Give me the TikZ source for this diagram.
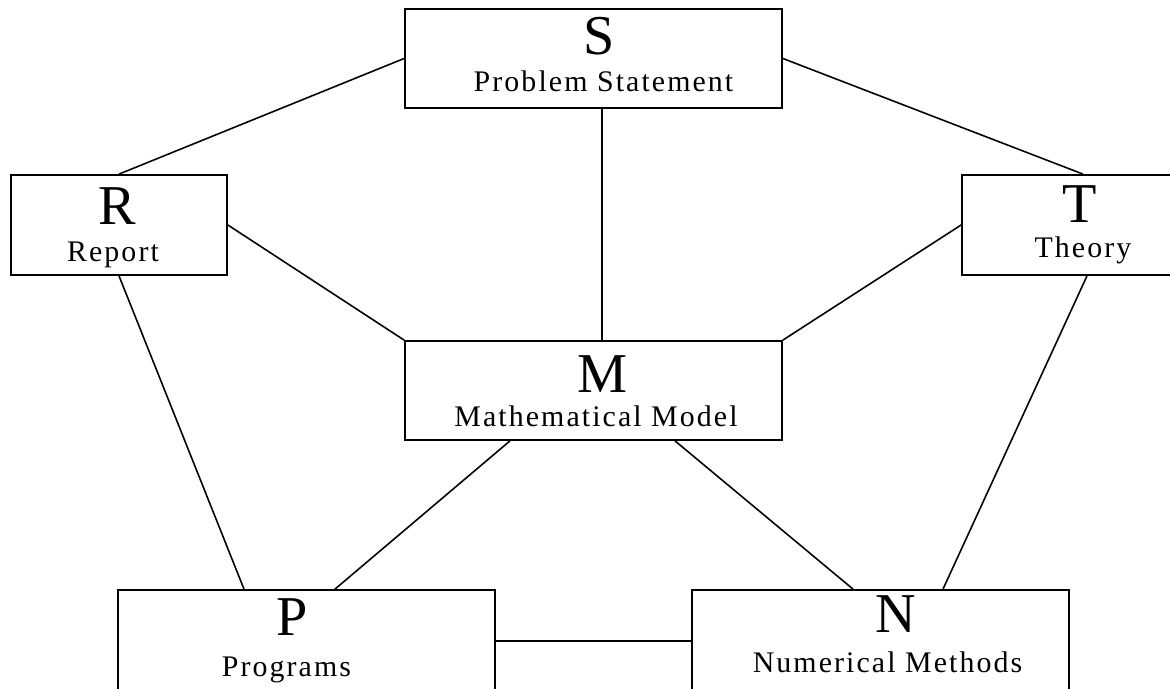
\documentclass[tikz,border=0pt]{standalone}
\usepackage{fontspec}
\setmainfont{Liberation Serif}
\newfontfamily\spacedfont[LetterSpace=7]{Liberation Serif}

\begin{document}
\begin{tikzpicture}[
    stage/.style={draw, line width=1pt, rectangle, minimum width=7.54cm, minimum height=1.98cm, inner sep=0pt},
    tag/.style={anchor=base, inner sep=0pt, font=\fontsize{32}{36}\selectfont},
    title/.style={anchor=base, inner sep=0pt, font=\spacedfont\fontsize{17}{19}\selectfont},
    link/.style={line width=0.9pt}]
  \useasboundingbox (0,0) rectangle (23.4,13.78);
  \clip (0,0) rectangle (23.4,13.78);
  % boxes
  \node[stage] (S) at (11.87,12.61) {};
  \node[stage, minimum width=4.32cm, minimum height=2cm] (R) at (2.38,9.28) {};
  \node[stage, minimum width=4.84cm, minimum height=2cm] (T) at (21.66,9.28) {};
  \node[stage] (M) at (11.87,5.97) {};
  \node[stage, minimum height=2.04cm] (P) at (6.13,0.96) {};
  \node[stage, minimum height=2.04cm] (N) at (17.61,0.96) {};
  % letters and names
  \node[tag] (S-tag) at ([shift={(0.11,-0.92)}]S.north) {S};
  \node[title] (S-title) at ([shift={(0.2,-1.66)}]S.north) {Problem Statement};
  \node[tag] (R-tag) at ([shift={(-0.03,-1.0)}]R.north) {R};
  \node[title] (R-title) at ([shift={(-0.12,-1.74)}]R.north) {Report};
  \node[tag] (T-tag) at ([shift={(-0.06,-0.96)}]T.north) {T};
  \node[title] (T-title) at ([shift={(0,-1.66)}]T.north) {Theory};
  \node[tag] (M-tag) at ([shift={(0.18,-1.04)}]M.north) {M};
  \node[title] (M-title) at ([shift={(0.05,-1.72)}]M.north) {Mathematical Model};
  \node[tag] (P-tag) at ([shift={(-0.28,-0.92)}]P.north) {P};
  \node[title] (P-title) at ([shift={(-0.4,-1.74)}]P.north) {Programs};
  \node[tag] (N-tag) at ([shift={(0.31,-0.86)}]N.north) {N};
  \node[title] (N-title) at ([shift={(0.14,-1.66)}]N.north) {Numerical Methods};
  % links
  \draw[link] (S.west) -- (R.north);
  \draw[link] (S.east) -- (T.north);
  \draw[link] ([xshift=0.17cm]S.south) -- ([xshift=0.17cm]M.north);
  \draw[link] (R.east) -- (M.north west);
  \draw[link] (T.west) -- (M.north east);
  \draw[link] (R.south) -- ([xshift=-1.25cm]P.north);
  \draw[link] ([xshift=-1.67cm]M.south) -- ([xshift=0.57cm]P.north);
  \draw[link] ([xshift=1.63cm]M.south) -- ([xshift=-0.55cm]N.north);
  \draw[link] ([xshift=0.08cm]T.south) -- ([xshift=1.25cm]N.north);
  \draw[link] (P.east) -- (N.west);
\end{tikzpicture}
\end{document}
